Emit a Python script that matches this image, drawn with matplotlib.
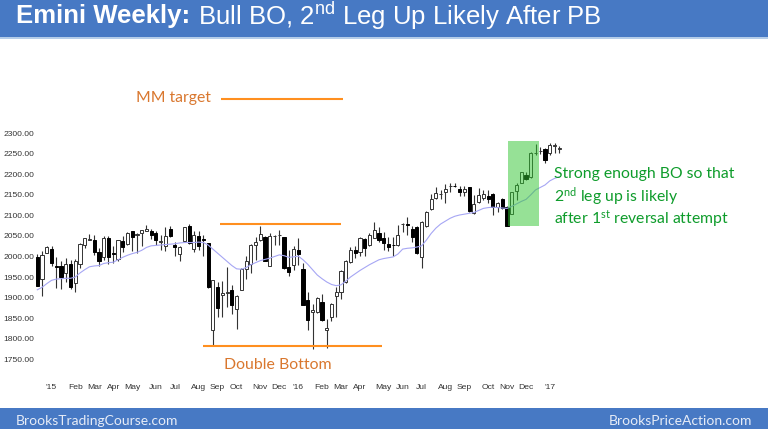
import matplotlib
matplotlib.use("Agg")
import matplotlib.pyplot as plt
from matplotlib.patches import Rectangle

W, H = 768, 429

# weekly bars
opens = [2000, 1946, 2008, 2019, 1976, 1977, 1959, 1981, 1935, 1981, 2027, 2041, 2040, 2010, 1999, 2045, 2009, 1994, 2038, 2031,
         2062, 2053, 2057, 2062, 2062, 2058, 2036, 2026, 2067, 2027, 2006, 2038, 2073, 2018, 2050, 2042, 2034, 1822, 1926, 1906,
         1912, 1919, 1873, 1919, 1970, 1981, 2029, 2039, 2048, 1978, 2050, 2052, 2047, 1974, 1980, 2015, 1970, 1894, 1866, 1864,
         1889, 1822, 1853, 1903, 1914, 1937, 1987, 2015, 2011, 2043, 2028, 2046, 2056, 2044, 2030, 2029, 2028, 2079, 2079, 2066,
         2072, 1999, 2074, 2115, 2143, 2152, 2156, 2171, 2172, 2165, 2158, 2169, 2105, 2133, 2142, 2148, 2152, 2121, 2141, 2120,
         2103, 2160, 2180, 2199, 2194, 2252, 2256, 2261, 2251, 2270, 2262]
closes = [1929, 2004, 2023, 1985, 1975, 1951, 1981, 1927, 1990, 2031, 2045, 2042, 2010, 1988, 2045, 1998, 2005, 2040, 2022, 2057,
          2047, 2055, 2064, 2068, 2052, 2039, 2038, 2050, 2050, 2023, 2023, 2071, 2032, 2052, 2026, 2041, 1925, 1943, 1874, 1912,
          1913, 1882, 1905, 1970, 1988, 2028, 2036, 2055, 1990, 2051, 2051, 2053, 1971, 1962, 2019, 2006, 1882, 1846, 1870, 1900,
          1846, 1827, 1884, 1913, 1964, 1990, 2016, 2009, 2045, 2021, 2053, 2065, 2039, 2032, 2022, 2028, 2053, 2079, 2076, 2047,
          2008, 2084, 2108, 2140, 2154, 2153, 2164, 2172, 2171, 2157, 2165, 2111, 2127, 2150, 2152, 2141, 2121, 2129, 2117, 2074,
          2156, 2175, 2205, 2188, 2253, 2253, 2257, 2236, 2271, 2271, 2263]
highs = [2005, 2014, 2026, 2026, 1998, 1988, 1996, 1992, 1993, 2032, 2046, 2054, 2053, 2020, 2051, 2051, 2025, 2041, 2051, 2059,
         2063, 2057, 2065, 2077, 2066, 2063, 2053, 2071, 2075, 2036, 2026, 2072, 2079, 2062, 2061, 2053, 2034, 1943, 1939, 1941,
         1975, 1930, 1906, 1971, 2001, 2030, 2048, 2073, 2050, 2057, 2053, 2065, 2047, 2016, 2025, 2045, 1984, 1914, 1885, 1902,
         1909, 1847, 1886, 1926, 1967, 1992, 2023, 2025, 2047, 2045, 2057, 2084, 2072, 2059, 2048, 2048, 2077, 2082, 2097, 2074,
         2074, 2086, 2111, 2152, 2168, 2162, 2176, 2178, 2180, 2172, 2172, 2170, 2150, 2166, 2162, 2162, 2154, 2133, 2143, 2122,
         2158, 2180, 2206, 2206, 2255, 2274, 2267, 2263, 2275, 2275, 2270]
lows = [1929, 1903, 2008, 1977, 1923, 1920, 1937, 1920, 1913, 1972, 2020, 2040, 2004, 1977, 1992, 1981, 1984, 1990, 2010, 2027,
        2014, 2008, 2026, 2061, 2042, 2028, 2016, 2014, 2047, 2000, 1988, 2036, 2030, 2010, 2015, 2000, 1924, 1783, 1852, 1854,
        1878, 1860, 1823, 1918, 1945, 1960, 1992, 2037, 1988, 1977, 2028, 2028, 1970, 1953, 1968, 1980, 1882, 1820, 1775, 1862,
        1844, 1777, 1842, 1854, 1897, 1935, 1983, 1996, 2000, 2000, 2026, 2044, 2036, 2015, 2014, 2001, 2026, 2060, 2052, 2036,
        2006, 1971, 2072, 2113, 2141, 2141, 2129, 2158, 2168, 2146, 2146, 2109, 2103, 2131, 2138, 2129, 2101, 2109, 2115, 2074,
        2103, 2137, 2179, 2186, 2192, 2247, 2249, 2227, 2248, 2253, 2253]
ema = [1919, 1925, 1934, 1942, 1945, 1946, 1947, 1947, 1950, 1960, 1968, 1975, 1977, 1978, 1983, 1985, 1986, 1992, 1998, 2003,
       2007, 2010, 2015, 2022, 2026, 2027, 2028, 2029, 2030, 2031, 2033, 2034, 2034, 2034, 2035, 2034, 2028, 2018, 2008, 1998,
       1988, 1978, 1970, 1969, 1973, 1980, 1985, 1990, 1993, 1996, 2000, 2004, 2002, 1998, 1999, 2001, 1992, 1981, 1968, 1955,
       1946, 1938, 1932, 1929, 1931, 1940, 1950, 1958, 1966, 1973, 1980, 1986, 1992, 1995, 1997, 1999, 2006, 2018, 2020, 2021,
       2023, 2026, 2040, 2056, 2069, 2079, 2086, 2093, 2098, 2101, 2103, 2105, 2107, 2112, 2117, 2119, 2120, 2119, 2118, 2117,
       2122, 2128, 2134, 2139, 2150, 2162, 2168, 2174, 2184, 2190, 2194]

price_ticks = [1750, 1800, 1850, 1900, 1950, 2000, 2050, 2100, 2150, 2200, 2250, 2300]
month_pos = [3, 8, 12, 16, 20, 25, 29, 34, 38, 42, 47, 51, 55, 60, 64, 68, 73, 77, 81, 86, 90, 95, 99, 103, 108]
month_labels = ["'15", "Feb", "Mar", "Apr", "May", "Jun", "Jul", "Aug", "Sep", "Oct", "Nov", "Dec", "'16",
                "Feb", "Mar", "Apr", "May", "Jun", "Jul", "Aug", "Sep", "Oct", "Nov", "Dec", "'17"]

# price levels drawn on the slide
mm_target = 2382
range_top = 2079
range_bottom = 1782
green_box = (99.2, 105.8, 2074, 2282)


def bar_x(px):
    return (px - 37.3) / 4.745


def price_y(px):
    return 2200 + (174.3 - px) / 0.411


def slide_text(x, y, s, **kw):
    fig.text(x / W, 1 - y / H, s, va="center", **kw)


plt.rcParams["font.family"] = ["Liberation Sans", "DejaVu Sans"]
plt.rcParams["mathtext.fontset"] = "custom"
plt.rcParams["mathtext.rm"] = "Lato"

fig = plt.figure(figsize=(W / 100, H / 100), dpi=100)

# header and footer bands
BLUE = "#4779c4"
fig.add_artist(Rectangle((0, 1 - 37 / H), 1, 37 / H, color=BLUE, transform=fig.transFigure, lw=0))
fig.add_artist(Rectangle((0, 1 - 38.5 / H), 1, 1.5 / H, color="#b5cde9", transform=fig.transFigure, lw=0))
fig.add_artist(Rectangle((0, 0), 1, 21 / H, color=BLUE, transform=fig.transFigure, lw=0))

ax = fig.add_axes([34 / W, (H - 380) / H, (762 - 34) / W, (380 - 60) / H])
ax.patch.set_alpha(0)
ax.set_xlim(bar_x(34), bar_x(762))
ax.set_ylim(price_y(380), price_y(60))
for s in ax.spines.values():
    s.set_visible(False)

idx = list(range(len(opens)))
ax.vlines(idx, lows, highs, color="#333333", lw=0.8, zorder=2)
for i in idx:
    up = closes[i] >= opens[i]
    low_edge = min(opens[i], closes[i])
    height = max(abs(closes[i] - opens[i]), 1)
    ax.bar(i, height, bottom=low_edge, width=0.66, color="white" if up else "black",
           edgecolor="#333333" if up else "black", lw=0.7, zorder=3)
ax.plot(idx, ema, color="#a6a6f4", lw=0.8, zorder=4)

ax.hlines(mm_target, bar_x(221), bar_x(343), color="#ff8f1f", lw=1.5, zorder=4)
ax.hlines(range_top, bar_x(220), bar_x(341), color="#ff8f1f", lw=1.5, zorder=4)
ax.hlines(range_bottom, bar_x(203), bar_x(382), color="#ff8f1f", lw=1.5, zorder=4)

x0, x1, y0, y1 = green_box
ax.add_patch(Rectangle((x0, y0), x1 - x0, y1 - y0, color="#2fc52f", alpha=0.5, lw=0, zorder=5))

ax.set_yticks(price_ticks)
ax.set_yticklabels(["%.2f" % p for p in price_ticks])
ax.set_xticks(month_pos)
ax.set_xticklabels(month_labels)
ax.tick_params(axis="both", length=0, labelsize=6.1, labelcolor="#333333")
ax.tick_params(axis="x", pad=3)
ax.tick_params(axis="y", pad=0)

# slide text
slide_text(16, 15.5, "Emini Weekly:", color="white", fontsize=18.5, fontweight="bold")
slide_text(198, 15.5, "Bull BO, 2$\\mathregular{^{nd}}$ Leg Up Likely After PB", color="white", fontsize=18.5)
slide_text(136, 98, "MM target", color="#d9772e", fontsize=11.3, family="Lato")
slide_text(224, 365, "Double Bottom", color="#d9772e", fontsize=11.4, family="Lato")
GREEN = "#0e9c2b"
slide_text(554, 174, "Strong enough BO so that", color=GREEN, fontsize=11.3, family="Lato")
slide_text(554, 197, "2$\\mathregular{^{nd}}$ leg up is likely", color=GREEN, fontsize=11.3, family="Lato")
slide_text(554, 219, "after 1$\\mathregular{^{st}}$ reversal attempt", color=GREEN, fontsize=11.3, family="Lato")
slide_text(16, 421, "BrooksTradingCourse.com", color="#e6ecf7", fontsize=10, family="Lato")
slide_text(752, 421, "BrooksPriceAction.com", color="#e6ecf7", fontsize=10, family="Lato", ha="right")

fig.savefig("out.png", dpi=100)
